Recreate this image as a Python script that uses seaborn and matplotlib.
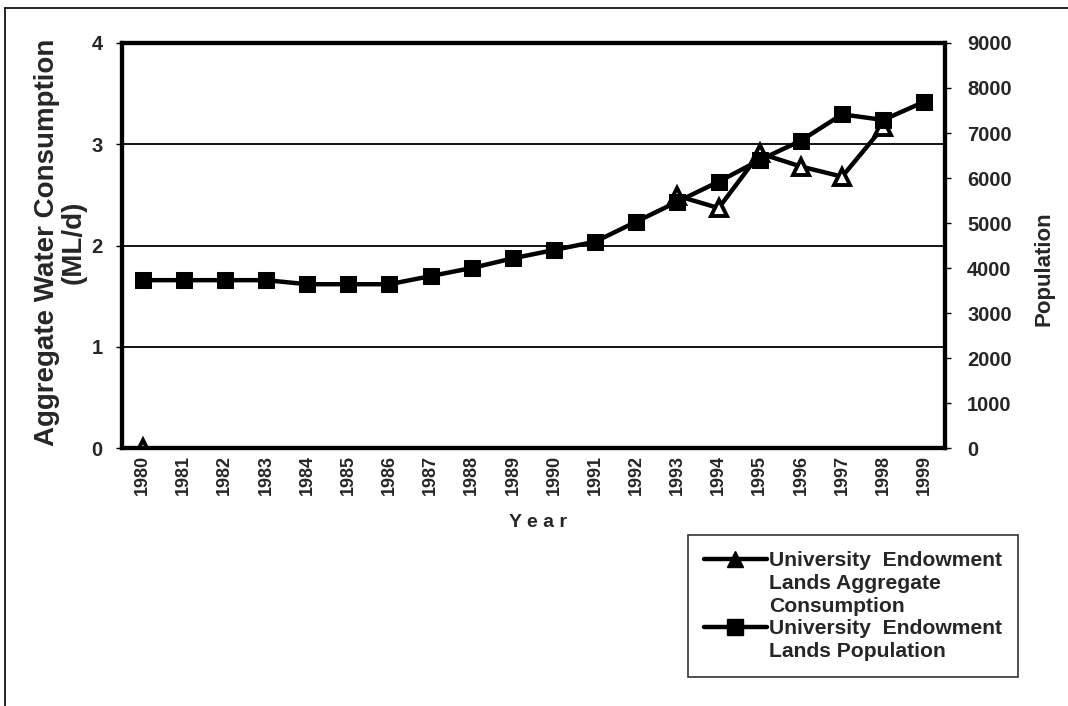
import numpy as np
import pandas as pd
import matplotlib
matplotlib.use("Agg")
import matplotlib.pyplot as plt
import seaborn as sns
from matplotlib.lines import Line2D

years = list(range(1980, 2000))
consumption = [0.0, np.nan, np.nan, np.nan, np.nan, np.nan, np.nan, np.nan, np.nan, np.nan,
               np.nan, np.nan, np.nan, 2.49, 2.37, 2.91, 2.78, 2.68, 3.17, np.nan]
population = [3730, 3730, 3730, 3730, 3640, 3640, 3640, 3820, 4000, 4215,
              4400, 4585, 5030, 5475, 5918, 6400, 6830, 7415, 7290, 7695]
left_ticks = [0, 1, 2, 3, 4]
right_ticks = [0, 1000, 2000, 3000, 4000, 5000, 6000, 7000, 8000, 9000]
label_cons = ["University  Endowment", "Lands Aggregate", "Consumption"]
label_pop = ["University  Endowment", "Lands Population"]

sns.set_theme(style="white")
plt.rcParams['font.family'] = ['Liberation Sans', 'DejaVu Sans']
plt.rcParams['font.weight'] = 'bold'

fig = plt.figure(figsize=(10.68, 7.06), dpi=100)
ax = fig.add_axes([0.1142, 0.3654, 0.8848 - 0.1142, 0.9391 - 0.3654])
ax2 = ax.twinx()

# consumption: break the line at missing values
cdf = pd.DataFrame({"year": years, "val": consumption})
cdf["seg"] = cdf["val"].isna().cumsum()
cdf = cdf.dropna()

sns.lineplot(data=cdf, x="year", y="val", units="seg", estimator=None, ax=ax,
             color="black", lw=3.2, marker="^", markersize=11, markerfacecolor="white",
             markeredgecolor="black", markeredgewidth=2.8, legend=False, zorder=5)

pdf = pd.DataFrame({"year": years, "pop": population})
sns.lineplot(data=pdf, x="year", y="pop", ax=ax2, color="black", lw=3.2, marker="s",
             markersize=11, markeredgecolor="black", markerfacecolor="black",
             legend=False, zorder=5)

ax.set_xlim(1979.5, 1999.5)
ax.set_ylim(0, 4)
ax2.set_ylim(0, 9000)
ax.set_yticks(left_ticks)
ax2.set_yticks(right_ticks)
ax.set_xticks(years)
ax.set_xticklabels([str(y) for y in years], rotation=90, fontsize=13, fontweight='bold')
ax.set_yticklabels([str(t) for t in left_ticks], fontsize=14.5, fontweight='bold')
ax2.set_yticklabels([str(t) for t in right_ticks], fontsize=14.5, fontweight='bold')

for a in (ax, ax2):
    for s in a.spines.values():
        s.set_color("black")
        s.set_linewidth(3)
ax.grid(False)
ax2.grid(False)
for yv in [1, 2, 3]:
    ax.axhline(yv, color="black", lw=1.3, zorder=1)

ax.tick_params(axis='y', length=4, width=1, color='black', pad=10, direction='out', left=True)
ax.tick_params(axis='x', length=0, pad=5)
ax2.tick_params(axis='y', length=4, width=1, color='black', pad=12, direction='out', right=True)

ax.set_xlabel("Y e a r", fontsize=14, fontweight='heavy')
ax.xaxis.set_label_coords(0.505, -0.163)
ax.set_ylabel("Aggregate Water Consumption\n(ML/d)", fontsize=20, fontweight='heavy',
              linespacing=1.05)
ax.yaxis.set_label_coords(-0.043, 0.509)
ax2.set_ylabel("Population", fontsize=16, fontweight='heavy')
ax2.yaxis.set_label_coords(1.108, 0.442)

h1 = Line2D([], [], color='black', lw=3.2, marker='^', markersize=12, markerfacecolor='black')
h2 = Line2D([], [], color='black', lw=3.2, marker='s', markersize=12, markerfacecolor='black')
blank = Line2D([], [], color='none')
handles = [h1, blank, blank, h2, blank]
labels = label_cons + label_pop
leg = fig.legend(handles, labels, loc='upper left',
                 bbox_to_anchor=(0.644, 0.242),
                 fontsize=15.2, frameon=True, fancybox=False, handlelength=3.0,
                 handletextpad=0.1, borderpad=0.75, borderaxespad=0, labelspacing=0.18)
leg.get_frame().set_edgecolor('black')
leg.get_frame().set_linewidth(1.2)
for t in leg.get_texts():
    t.set_fontweight('bold')

# scanned page edges (top and left)
fig.add_artist(Line2D([0.005, 1.0], [0.988, 0.988], transform=fig.transFigure,
                      color='black', lw=1.2))
fig.add_artist(Line2D([0.005, 0.005], [0.0, 0.988], transform=fig.transFigure,
                      color='black', lw=1.2))

fig.savefig("out.png", dpi=100)
